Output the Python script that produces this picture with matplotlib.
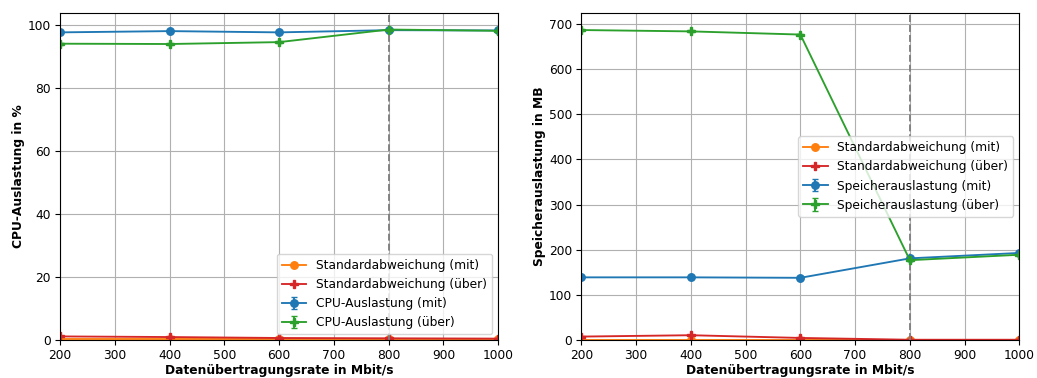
import matplotlib
matplotlib.use("Agg")
import matplotlib.pyplot as plt

rates = [200, 400, 600, 800, 1000]
cpu_mit = [97.8, 98.2, 97.8, 98.5, 98.4]
cpu_ueber = [94.2, 94.1, 94.7, 98.7, 98.3]
cpu_std_mit = [0.3, 0.3, 0.3, 0.3, 0.3]
cpu_std_ueber = [1.2, 1.0, 0.7, 0.6, 0.5]
cpu_err_mit = [0.2, 0.2, 0.2, 0.2, 0.2]
cpu_err_ueber = [0.3, 0.3, 0.3, 0.2, 0.2]

mem_mit = [139, 139, 138, 181, 193]
mem_ueber = [686, 683, 676, 177, 189]
mem_std_mit = [0.5, 0.5, 0.5, 0.5, 0.5]
mem_std_ueber = [8, 11, 5, 1, 1]
mem_err_mit = [1, 1, 1, 1, 1]
mem_err_ueber = [2, 2, 2, 1, 1]

plt.rcParams['font.size'] = 8.8
plt.rcParams['lines.linewidth'] = 1.35
plt.rcParams['lines.markersize'] = 5.4
plt.rcParams['xtick.major.pad'] = 3
plt.rcParams['ytick.major.pad'] = 3

fig, (ax1, ax2) = plt.subplots(1, 2, figsize=(10.37, 3.78), dpi=100)

def draw(ax, mit, ueber, smit, sueber, emit, eueber, name, ylabel, ylim, loc):
    ax.plot(rates, smit, marker='o', color='tab:orange', label='Standardabweichung (mit)')
    ax.plot(rates, sueber, marker='P', color='tab:red', label='Standardabweichung (über)')
    ax.errorbar(rates, mit, yerr=emit, marker='o', color='tab:blue', capsize=2.5, label=f'{name} (mit)')
    ax.errorbar(rates, ueber, yerr=eueber, marker='P', color='tab:green', capsize=2.5, label=f'{name} (über)')
    ax.axvline(800, color='gray', linestyle='--')
    ax.set_xlim(200, 1000)
    ax.set_ylim(*ylim)
    ax.grid(True)
    ax.set_xlabel('Datenübertragungsrate in Mbit/s', fontweight='bold', labelpad=1)
    ax.set_ylabel(ylabel, fontweight='bold', labelpad=2)
    ax.legend(loc=loc)

draw(ax1, cpu_mit, cpu_ueber, cpu_std_mit, cpu_std_ueber, cpu_err_mit, cpu_err_ueber,
     'CPU-Auslastung', 'CPU-Auslastung in %', (0, 104), 'lower right')
draw(ax2, mem_mit, mem_ueber, mem_std_mit, mem_std_ueber, mem_err_mit, mem_err_ueber,
     'Speicherauslastung', 'Speicherauslastung in MB', (0, 724), 'center right')

fig.subplots_adjust(left=0.058, right=0.983, bottom=0.1, top=0.966, wspace=0.19)
fig.savefig('out.png', dpi=100)
